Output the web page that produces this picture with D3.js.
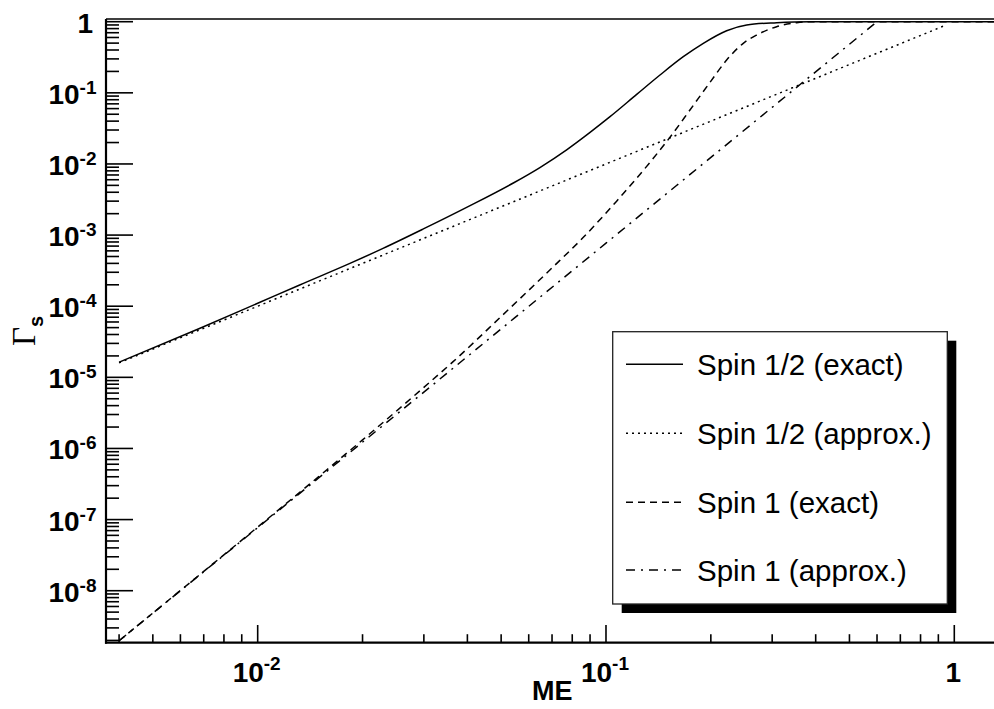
<!DOCTYPE html>
<html>
<head>
<meta charset="utf-8">
<script src="https://cdn.jsdelivr.net/npm/d3@7"></script>
<style>
  html, body { margin: 0; padding: 0; background: #fff; }
  svg { display: block; }
</style>
</head>
<body>
<svg id="chart" width="994" height="709"></svg>
<script>
// ---------------- data ----------------
const spinHalfExactX = [0.004, 0.00683, 0.01, 0.0132, 0.0184, 0.0229, 0.0299, 0.0398, 0.0542, 0.0646, 0.0771, 0.09, 0.1027, 0.1225, 0.1429, 0.1667, 0.1903, 0.222, 0.2535, 0.309, 0.385, 1.3];
const spinHalfExactY = [1.63e-5, 4.89e-5, 1.1e-4, 1.99e-4, 4.0e-4, 6.5e-4, 1.22e-3, 2.45e-3, 5.4e-3, 8.9e-3, 0.0158, 0.0278, 0.0462, 0.095, 0.178, 0.322, 0.497, 0.747, 0.899, 0.968, 1.0, 1.0];

const spinHalfApproxX = [0.004, 0.01, 0.03, 0.1, 0.3, 0.94];
const spinHalfApproxY = [1.6e-5, 1.0e-4, 9.0e-4, 0.01, 0.09, 0.884];

const spinOneExactX = [0.004, 0.007, 0.01, 0.015, 0.02, 0.03, 0.0364, 0.0496, 0.069, 0.0861, 0.1073, 0.1367, 0.1544, 0.1742, 0.1988, 0.222, 0.2478, 0.2709, 0.309, 0.3528, 0.385, 1.3];
const spinOneExactY = [1.98e-9, 1.87e-8, 7.85e-8, 4.06e-7, 1.32e-6, 7.23e-6, 1.66e-5, 6.9e-5, 3.23e-4, 9.3e-4, 3.0e-3, 0.012, 0.0255, 0.0573, 0.14, 0.289, 0.497, 0.65, 0.851, 0.968, 1.0, 1.0];

const spinOneApproxX = [0.004, 0.01, 0.03, 0.1, 0.3, 0.6];
const spinOneApproxY = [1.98e-9, 7.7e-8, 6.2e-6, 7.7e-4, 0.0625, 1.0];

const seriesNames = ["Spin 1/2 (exact)", "Spin 1/2 (approx.)", "Spin 1 (exact)", "Spin 1 (approx.)"];

const xMajorTicks = [0.01, 0.1, 1];
const xTickBase = ["10", "10", "1"];
const xTickExp = ["-2", "-1", ""];
const yMajorTicks = [1e-8, 1e-7, 1e-6, 1e-5, 1e-4, 1e-3, 1e-2, 1e-1, 1];
const yTickBase = ["10", "10", "10", "10", "10", "10", "10", "10", "1"];
const yTickExp = ["-8", "-7", "-6", "-5", "-4", "-3", "-2", "-1", ""];

const xTitle = "ME";
const yTitleMain = "\u0393";
const yTitleSub = "s";

// ---------------- layout ----------------
const L = 106, R = 994, T = 19, B = 642.7;
const xDomain = [Math.pow(10, -2.4355), Math.pow(10, 0.114)];
const yDomain = [Math.pow(10, -8.731), Math.pow(10, 0.038)];

const x = d3.scaleLog().domain(xDomain).range([L, R]);
const y = d3.scaleLog().domain(yDomain).range([B, T]);

const svg = d3.select("#chart");
svg.append("rect").attr("width", 994).attr("height", 709).attr("fill", "#fff");

svg.append("defs").append("clipPath").attr("id", "plotclip")
  .append("rect").attr("x", L).attr("y", T).attr("width", R - L).attr("height", B - T);

// minor ticks
function minorTicks(lo, hi) {
  const out = [];
  for (let e = -10; e <= 1; e++) {
    for (let m = 2; m <= 9; m++) {
      const v = m * Math.pow(10, e);
      if (v > lo && v < hi) out.push(v);
    }
  }
  return out;
}

const axisG = svg.append("g");

// frame top
axisG.append("line").attr("x1", L).attr("x2", R).attr("y1", T).attr("y2", T)
  .attr("stroke", "#000").attr("stroke-width", 1.5);

// Y axis ticks (pointing right)
const yMinor = minorTicks(yDomain[0], yDomain[1]);
axisG.selectAll("line.ymin").data(yMinor).join("line")
  .attr("x1", L).attr("x2", L + 13).attr("y1", d => y(d)).attr("y2", d => y(d))
  .attr("stroke", "#000").attr("stroke-width", 1.6);
axisG.selectAll("line.ymaj").data(yMajorTicks).join("line")
  .attr("x1", L).attr("x2", L + 27).attr("y1", d => y(d)).attr("y2", d => y(d))
  .attr("stroke", "#000").attr("stroke-width", 1.6);

// X axis ticks (pointing up)
const xMinor = minorTicks(xDomain[0], xDomain[1]);
axisG.selectAll("line.xmin").data(xMinor).join("line")
  .attr("x1", d => x(d)).attr("x2", d => x(d)).attr("y1", B).attr("y2", B - 8.5)
  .attr("stroke", "#000").attr("stroke-width", 1.6);
axisG.selectAll("line.xmaj").data(xMajorTicks).join("line")
  .attr("x1", d => x(d)).attr("x2", d => x(d)).attr("y1", B).attr("y2", B - 17.7)
  .attr("stroke", "#000").attr("stroke-width", 1.6);

// axis lines
axisG.append("line").attr("x1", L).attr("x2", L).attr("y1", T).attr("y2", B + 1)
  .attr("stroke", "#000").attr("stroke-width", 2.2);
axisG.append("line").attr("x1", L - 1).attr("x2", R).attr("y1", B).attr("y2", B)
  .attr("stroke", "#000").attr("stroke-width", 2.2);

// Y tick labels
const fontBold = "'Liberation Sans', Arial, Helvetica, sans-serif";
yMajorTicks.forEach((v, i) => {
  const t = svg.append("text")
    .attr("x", yTickExp[i] ? 96.5 : 93)
    .attr("y", y(v) + 11)
    .attr("text-anchor", "end")
    .attr("font-family", fontBold).attr("font-weight", "bold")
    .attr("font-size", 28).attr("fill", "#000");
  t.append("tspan").text(yTickBase[i]);
  if (yTickExp[i]) t.append("tspan").attr("font-size", 19).attr("dy", -10).text(yTickExp[i]);
});

// X tick labels
xMajorTicks.forEach((v, i) => {
  const t = svg.append("text")
    .attr("x", x(v) - 1)
    .attr("y", 682)
    .attr("text-anchor", "middle")
    .attr("font-family", fontBold).attr("font-weight", "bold")
    .attr("font-size", 28).attr("fill", "#000");
  t.append("tspan").text(xTickBase[i]);
  if (xTickExp[i]) t.append("tspan").attr("font-size", 19).attr("dy", -12).text(xTickExp[i]);
});

// Axis titles
svg.append("text").attr("x", 532).attr("y", 700)
  .attr("font-family", fontBold).attr("font-weight", "bold")
  .attr("font-size", 27).attr("fill", "#000").text(xTitle);

const yt = svg.append("text")
  .attr("transform", "translate(35,346) rotate(-90)")
  .attr("fill", "#000");
yt.append("tspan").attr("font-family", "'Liberation Serif', 'Times New Roman', serif")
  .attr("font-size", 33).text(yTitleMain);
yt.append("tspan").attr("font-family", fontBold).attr("font-weight", "bold")
  .attr("font-size", 20).attr("dy", 8).text(yTitleSub);

// ---------------- curves ----------------
const styles = [
  { dash: null },
  { dash: "2,4" },
  { dash: "7,5" },
  { dash: "9,6,2,6" }
];
const series = [
  { xs: spinHalfExactX, ys: spinHalfExactY },
  { xs: spinHalfApproxX, ys: spinHalfApproxY },
  { xs: spinOneExactX, ys: spinOneExactY },
  { xs: spinOneApproxX, ys: spinOneApproxY }
];

const line = d3.line().x(d => x(d[0])).y(d => y(d[1])).curve(d3.curveMonotoneX);
const plotG = svg.append("g").attr("clip-path", "url(#plotclip)");
series.forEach((s, i) => {
  const pts = s.xs.map((xv, j) => [xv, s.ys[j]]);
  plotG.append("path").datum(pts)
    .attr("d", line)
    .attr("fill", "none").attr("stroke", "#000").attr("stroke-width", 1.5)
    .attr("stroke-dasharray", styles[i].dash);
});

// ---------------- legend ----------------
const lgX = 612.7, lgY = 331.7, lgW = 334.6, lgH = 272.3;
svg.append("rect").attr("x", lgX + 9).attr("y", lgY + 9).attr("width", lgW).attr("height", lgH)
  .attr("fill", "#000");
svg.append("rect").attr("x", lgX).attr("y", lgY).attr("width", lgW).attr("height", lgH)
  .attr("fill", "#fff").attr("stroke", "#222").attr("stroke-width", 1.3);

const rowY = [364.3, 433.3, 502.3, 570];
seriesNames.forEach((name, i) => {
  svg.append("line").attr("x1", 626).attr("x2", 683).attr("y1", rowY[i]).attr("y2", rowY[i])
    .attr("stroke", "#000").attr("stroke-width", 1.5)
    .attr("stroke-dasharray", styles[i].dash);
  svg.append("text").attr("x", 697).attr("y", rowY[i] + 10.8)
    .attr("font-family", fontBold).attr("font-size", 29.5).attr("fill", "#000")
    .text(name);
});
</script>
</body>
</html>
